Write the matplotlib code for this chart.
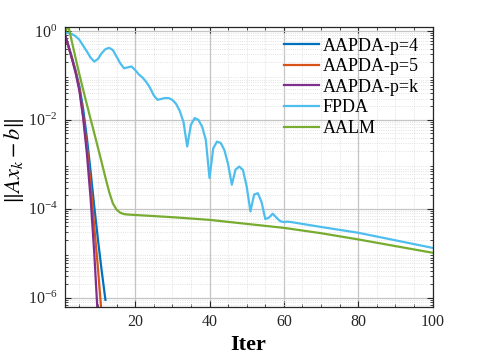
import matplotlib
matplotlib.use("Agg")
import matplotlib.pyplot as plt
import numpy as np
from matplotlib.ticker import (FixedLocator, LogLocator, MultipleLocator,
                               LogFormatterMathtext, NullFormatter)

# residual ||Ax_k - b|| (log10 values)
it_p4 = [1, 2, 3, 4, 5, 6, 7, 8, 9, 10, 11, 12]
res_p4 = [-0.05, -0.32, -0.6, -0.9, -1.25, -1.75, -2.4, -3.15, -3.95, -4.7, -5.4, -6.05]

it_p5 = [1, 2, 3, 4, 5, 6, 7, 8, 9, 10, 11]
res_p5 = [-0.05, -0.33, -0.62, -0.93, -1.3, -1.9, -2.6, -3.45, -4.4, -5.35, -6.4]

it_pk = [1, 2, 3, 4, 5, 6, 7, 8, 9, 10]
res_pk = [-0.05, -0.33, -0.63, -0.95, -1.35, -1.95, -2.75, -3.75, -5.0, -6.5]

it_fpda = list(range(1, 63)) + [70, 80, 90, 100]
res_fpda = [-0.05, -0.05, -0.07, -0.12, -0.2, -0.33, -0.46, -0.6, -0.69, -0.63,
            -0.5, -0.41, -0.38, -0.43, -0.58, -0.73, -0.84, -0.82, -0.8, -0.88,
            -0.98, -1.05, -1.15, -1.28, -1.45, -1.55, -1.53, -1.51, -1.51, -1.55,
            -1.64, -1.8, -2.05, -2.6, -2.11, -1.96, -2.0, -2.15, -2.45, -3.31,
            -2.64, -2.49, -2.52, -2.68, -3.0, -3.46, -3.12, -3.05, -3.13, -3.5,
            -4.06, -3.68, -3.65, -3.85, -4.23, -4.2, -4.11, -4.2, -4.28, -4.3,
            -4.29, -4.3, -4.41, -4.54, -4.71, -4.88]

it_aalm = [1, 2, 3, 4, 5, 6, 7, 8, 9, 10, 11, 12, 13, 14, 15, 16, 17, 18, 20,
           30, 40, 50, 60, 70, 80, 90, 100]
res_aalm = [-0.05, 0.12, -0.25, -0.62, -0.98, -1.32, -1.65, -1.98, -2.3, -2.63,
            -2.96, -3.3, -3.62, -3.88, -4.02, -4.09, -4.12, -4.13, -4.14,
            -4.19, -4.25, -4.34, -4.43, -4.55, -4.69, -4.84, -4.99]

labels = ["AAPDA-p=4", "AAPDA-p=5", "AAPDA-p=k", "FPDA", "AALM"]
colors = ["#0072BD", "#D95319", "#7E2F8E", "#4DBEEE", "#77AC30"]

plt.rcParams["font.family"] = ["Liberation Serif", "DejaVu Serif"]
plt.rcParams["mathtext.fontset"] = "stix"

fig = plt.figure(figsize=(4.78, 3.59), dpi=100)
ax = fig.add_axes([0.135, 0.146, 0.77, 0.779])

series = [(it_p4, res_p4), (it_p5, res_p5), (it_pk, res_pk),
          (it_fpda, res_fpda), (it_aalm, res_aalm)]
for (x, y), lab, c in zip(series, labels, colors):
    ax.semilogy(x, 10.0 ** np.array(y), color=c, lw=1.6, label=lab)

ax.set_xlim(1, 100)
ax.set_ylim(6.3e-7, 1.23)

ax.xaxis.set_major_locator(MultipleLocator(20))
ax.xaxis.set_minor_locator(MultipleLocator(5))
ax.yaxis.set_major_locator(FixedLocator([1e-6, 1e-4, 1e-2, 1e0]))
ax.yaxis.set_minor_locator(LogLocator(base=10, subs=np.arange(2, 10), numticks=20))
ax.yaxis.set_major_formatter(LogFormatterMathtext())
ax.yaxis.set_minor_formatter(NullFormatter())

ax.grid(True, which="major", color="#c4c4c4", lw=0.9)
ax.grid(True, which="minor", color="#d8d8d8", lw=0.6, ls=":")
ax.set_axisbelow(True)

ax.tick_params(which="both", direction="in", top=True, right=True,
               labelsize=11.5, colors="#262626")
ax.tick_params(which="major", length=4, pad=5)
ax.tick_params(which="minor", length=2)
for s in ax.spines.values():
    s.set_color("#262626")
    s.set_linewidth(0.9)

ax.set_xlabel("Iter", fontsize=16, fontweight="bold", labelpad=4)
ax.set_ylabel(r"$\|Ax_k-b\|$", fontsize=16)
ax.yaxis.set_label_coords(-0.105, 0.52)

ax.legend(loc="upper left", bbox_to_anchor=(0.595, 0.962), frameon=False,
          fontsize=13, handlelength=1.95, handletextpad=0.2, labelspacing=0.2,
          borderpad=0, borderaxespad=0)

fig.savefig("out.png", dpi=100)
